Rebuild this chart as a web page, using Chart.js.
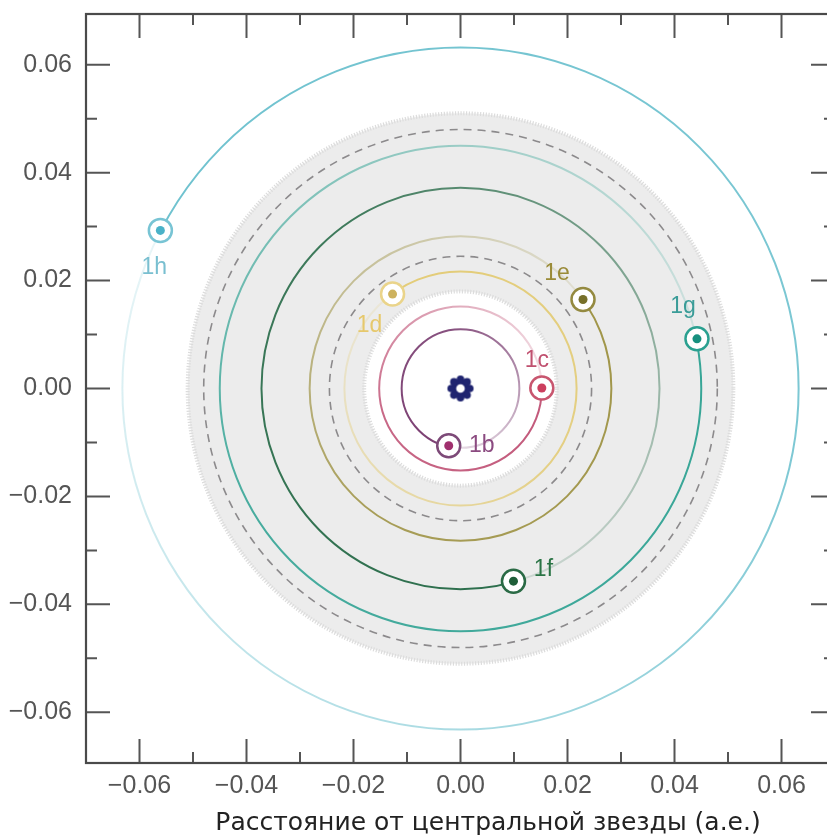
<!DOCTYPE html>
<html lang="ru">
<head>
<meta charset="utf-8">
<title>TRAPPIST-1</title>
<script src="https://cdn.jsdelivr.net/npm/chart.js@4.4.1/dist/chart.umd.min.js"></script>
<style>
  html, body { margin: 0; padding: 0; background: #fff; overflow: hidden; }
  #wrap { width: 846px; height: 837px; }
</style>
</head>
<body>
<div id="wrap"><canvas id="orbitChart" width="846" height="837"></canvas></div>
<script>
// данные орбит (а.е.)
const planetNames = ['1b', '1c', '1d', '1e', '1f', '1g', '1h'];
const orbitRadius = [0.0110, 0.0152, 0.0217, 0.0282, 0.0372, 0.0450, 0.0632];
const planetX = [-0.0022, 0.0152, -0.0127, 0.0229, 0.0099, 0.0442, -0.0561];
const planetY = [-0.0106, 0.0001, 0.0175, 0.0165, -0.0357, 0.0092, 0.0293];

// зона обитаемости и пунктирные границы
const zoneInner = 0.018;
const zoneOuter = 0.051;
const dashedRadius = [0.0245, 0.048];

// деления осей
const majorTicks = [-0.06, -0.04, -0.02, 0.00, 0.02, 0.04, 0.06];
const minorTicks = [-0.05, -0.03, -0.01, 0.01, 0.03, 0.05];
const xMin = -0.07, xMax = 0.07;
const yMin = -0.0694, yMax = 0.0694;

const axisTitle = 'Расстояние от центральной звезды (а.е.)';

// стили
const FONT = '"Liberation Sans", Arial, Helvetica, sans-serif';
const TITLE_FONT = '"DejaVu Sans", "Liberation Sans", sans-serif';
const orbitColors = ['#7b3f72', '#c2587a', '#e3cc78', '#a09548', '#2c6e4c', '#36a596', '#6fc2cf'];
const ringColors  = ['#7d4a78', '#c8566f', '#ead48a', '#948a40', '#2a6a45', '#2aa090', '#78c4d4'];
const dotColors   = ['#a0306e', '#cc3f5e', '#cdb25e', '#77702a', '#1e5e38', '#17907f', '#4ab2c8'];
const labelColors = ['#8b4a80', '#c0506f', '#e6c86c', '#9a8b38', '#2a7445', '#3a9c98', '#79bfd0'];
const labelOffsets = [[33, 0], [-5, -27], [-23, 32], [-26, -26], [30, -11], [-14, -32], [-6, 37]];

function hexToRgba(hex, a) {
  const n = parseInt(hex.slice(1), 16);
  return `rgba(${(n >> 16) & 255}, ${(n >> 8) & 255}, ${n & 255}, ${a})`;
}

function fmtTick(v) {
  const s = Math.abs(v).toFixed(2);
  return v < -1e-9 ? '\u2212' + s : s;
}

// звезда — значок в виде шестерёнки
function makeStarIcon() {
  const c = document.createElement('canvas');
  c.width = 30; c.height = 30;
  const g = c.getContext('2d');
  g.fillStyle = '#1f2470';
  g.beginPath();
  g.arc(15, 15, 9.5, 0, Math.PI * 2);
  g.fill();
  for (let k = 0; k < 8; k++) {
    const a = k * Math.PI / 4;
    g.beginPath();
    g.arc(15 + Math.cos(a) * 9.3, 15 + Math.sin(a) * 9.3, 3.8, 0, Math.PI * 2);
    g.fill();
  }
  g.fillStyle = '#ffffff';
  g.beginPath();
  g.arc(15, 15, 4.3, 0, Math.PI * 2);
  g.fill();
  return c;
}

// фон: зона, пунктир, орбиты со шлейфом
const orbitsLayer = {
  id: 'orbitsLayer',
  beforeDatasetsDraw(chart) {
    const { ctx, chartArea: a, scales: { x, y } } = chart;
    const cx = x.getPixelForValue(0);
    const cy = y.getPixelForValue(0);
    const rx = r => x.getPixelForValue(r) - cx;
    const ry = r => cy - y.getPixelForValue(r);
    const ring = r => { ctx.beginPath(); ctx.ellipse(cx, cy, rx(r), ry(r), 0, 0, Math.PI * 2); };

    ctx.save();
    ctx.beginPath();
    ctx.rect(a.left, a.top, a.right - a.left, a.bottom - a.top);
    ctx.clip();

    ring(zoneOuter); ctx.fillStyle = '#ececec'; ctx.fill();
    ring(zoneInner); ctx.fillStyle = '#ffffff'; ctx.fill();

    ctx.setLineDash([1.2, 1.6]);
    ctx.lineWidth = 4;
    ctx.strokeStyle = '#dcdcdc';
    ring(zoneOuter); ctx.stroke();
    ring(zoneInner); ctx.stroke();

    ctx.setLineDash([8, 6]);
    ctx.lineWidth = 1.6;
    ctx.strokeStyle = '#8c8a8c';
    dashedRadius.forEach(r => { ring(r); ctx.stroke(); });
    ctx.setLineDash([]);

    planetNames.forEach((name, i) => {
      const px = x.getPixelForValue(planetX[i]);
      const py = y.getPixelForValue(planetY[i]);
      const start = Math.atan2(py - cy, px - cx);
      const grad = ctx.createConicGradient(start, cx, cy);
      grad.addColorStop(0, hexToRgba(orbitColors[i], 1));
      grad.addColorStop(0.45, hexToRgba(orbitColors[i], 0.9));
      grad.addColorStop(1, hexToRgba(orbitColors[i], 0.15));
      ctx.strokeStyle = grad;
      ctx.lineWidth = 2;
      ring(orbitRadius[i]);
      ctx.stroke();
    });
    ctx.restore();
  }
};

// подписи планет
const planetLabels = {
  id: 'planetLabels',
  afterDatasetsDraw(chart) {
    const { ctx, scales: { x, y } } = chart;
    ctx.save();
    ctx.font = `23px ${FONT}`;
    ctx.textAlign = 'center';
    ctx.textBaseline = 'middle';
    planetNames.forEach((name, i) => {
      ctx.fillStyle = labelColors[i];
      ctx.fillText(name,
        x.getPixelForValue(planetX[i]) + labelOffsets[i][0],
        y.getPixelForValue(planetY[i]) + labelOffsets[i][1]);
    });
    ctx.restore();
  }
};

// рамка и внутренние деления на всех четырёх сторонах
const frameTicks = {
  id: 'frameTicks',
  afterDraw(chart) {
    const { ctx, chartArea: a, scales: { x, y } } = chart;
    ctx.save();
    ctx.strokeStyle = '#555555';
    ctx.lineWidth = 2;
    ctx.beginPath();
    const all = majorTicks.map(v => [v, 24]).concat(minorTicks.map(v => [v, 11]));
    all.forEach(([v, len]) => {
      const px = x.getPixelForValue(v);
      const py = y.getPixelForValue(v);
      ctx.moveTo(px, a.bottom); ctx.lineTo(px, a.bottom - len);
      ctx.moveTo(px, a.top); ctx.lineTo(px, a.top + len);
      ctx.moveTo(a.left, py); ctx.lineTo(a.left + len, py);
      ctx.moveTo(a.right, py); ctx.lineTo(a.right - len, py);
    });
    ctx.stroke();
    ctx.strokeStyle = '#4a4a4a';
    ctx.lineWidth = 2.2;
    ctx.strokeRect(a.left, a.top, a.right - a.left, a.bottom - a.top);

    ctx.fillStyle = '#222222';
    ctx.font = `25px ${TITLE_FONT}`;
    ctx.textAlign = 'center';
    ctx.textBaseline = 'alphabetic';
    ctx.fillText(axisTitle, 488, 830);
    ctx.restore();
  }
};

const tickFont = { family: FONT, size: 25 };

function noPadding(s) {
  s.paddingTop = 0;
  s.paddingBottom = 0;
  s.paddingLeft = 0;
  s.paddingRight = 0;
}

const chart = new Chart(document.getElementById('orbitChart'), {
  type: 'scatter',
  data: {
    datasets: [
      {
        label: 'star',
        data: [{ x: 0, y: 0 }],
        pointStyle: makeStarIcon(),
        pointRadius: 15,
        order: 0
      },
      {
        label: 'dots',
        data: planetX.map((v, i) => ({ x: v, y: planetY[i] })),
        pointRadius: 4.5,
        pointBorderWidth: 0,
        pointBackgroundColor: dotColors,
        order: 1
      },
      {
        label: 'rings',
        data: planetX.map((v, i) => ({ x: v, y: planetY[i] })),
        pointRadius: 11.5,
        pointBorderWidth: 2.5,
        pointBorderColor: ringColors,
        pointBackgroundColor: '#ffffff',
        order: 2
      }
    ]
  },
  options: {
    responsive: false,
    animation: false,
    events: [],
    layout: { autoPadding: false, padding: { top: 14, right: 11, left: 0, bottom: 0 } },
    plugins: { legend: { display: false }, tooltip: { enabled: false } },
    scales: {
      x: {
        type: 'linear',
        min: xMin,
        max: xMax,
        grid: { display: false, drawTicks: false },
        border: { display: false },
        afterBuildTicks: s => { s.ticks = majorTicks.map(v => ({ value: v })); },
        afterFit: s => { s.height = 74; noPadding(s); },
        ticks: { font: tickFont, color: '#555555', padding: 8, maxRotation: 0, autoSkip: false, callback: fmtTick }
      },
      y: {
        type: 'linear',
        min: yMin,
        max: yMax,
        grid: { display: false, drawTicks: false },
        border: { display: false },
        afterBuildTicks: s => { s.ticks = majorTicks.map(v => ({ value: v })); },
        afterFit: s => { s.width = 86; noPadding(s); },
        ticks: { font: tickFont, color: '#555555', padding: 14, autoSkip: false, callback: fmtTick }
      }
    }
  },
  plugins: [orbitsLayer, planetLabels, frameTicks]
});
</script>
</body>
</html>
